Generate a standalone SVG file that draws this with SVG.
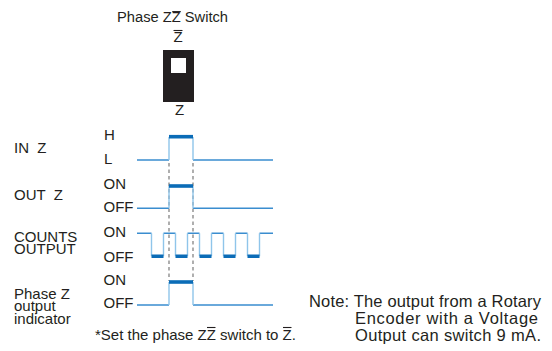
<svg xmlns="http://www.w3.org/2000/svg" width="552" height="351" viewBox="0 0 552 351">
<style>
text{font-family:"Liberation Sans",Arial,Helvetica,sans-serif;font-size:15px;fill:#231f20}
.bar{stroke:#231f20;stroke-width:1.1;fill:none}
.h{stroke:#3a8dcf;stroke-width:1.6;fill:none}
.v{stroke:#8fc5ea;stroke-width:1.4;fill:none}
.t{stroke:#0b6cb7;stroke-width:3.6;fill:none}
.d{stroke:#7a7a7a;stroke-width:1.2;stroke-dasharray:3.5 3;fill:none}
</style>
<rect width="552" height="351" fill="#ffffff"/>

<g id="switch">
<text x="117" y="22" style="font-size:14.7px">Phase ZZ Switch</text>
<line class="bar" x1="172.2" y1="11.6" x2="180.8" y2="11.6"/>
<text x="178" y="42" text-anchor="middle">Z</text>
<line class="bar" x1="173.5" y1="30.5" x2="182.5" y2="30.5"/>
<rect x="163" y="50" width="31" height="52" fill="#231f20"/>
<rect x="171" y="58" width="15" height="15" fill="#ffffff"/>
<text x="179.5" y="115" text-anchor="middle">Z</text>
</g>

<g id="labels">
<text x="14" y="153" xml:space="preserve">IN  Z</text>
<text x="104" y="140">H</text>
<text x="104" y="164">L</text>
<text x="14" y="200" xml:space="preserve">OUT  Z</text>
<text x="103.5" y="189">ON</text>
<text x="103.5" y="212">OFF</text>
<text x="14" y="242">COUNTS</text>
<text x="14" y="254">OUTPUT</text>
<text x="103.5" y="237">ON</text>
<text x="103.5" y="261.5">OFF</text>
<text x="14" y="298.5">Phase Z</text>
<text x="14" y="311">output</text>
<text x="14" y="323.5">indicator</text>
<text x="103.5" y="285">ON</text>
<text x="103.5" y="308">OFF</text>
</g>

<g id="connectors">
<!-- guide lines -->
<line class="d" x1="169" y1="163" x2="169" y2="281"/>
<line class="d" x1="193" y1="163" x2="193" y2="281"/>

<!-- IN Z -->
<path class="h" d="M137 160 H169 M193 160 H273"/>
<path class="v" d="M169 160 V137 M193 137 V160"/>
<path class="t" d="M169 136.7 H193"/>

<!-- OUT Z -->
<path class="h" d="M137 208.3 H169 M193 208.3 H273"/>
<path class="v" d="M169 208.3 V186 M193 186 V208.3"/>
<path class="t" d="M169 186 H193"/>

<!-- COUNTS OUTPUT -->
<path class="h" d="M137 233.3 H151.5 M163.5 233.3 H175.5 M187.5 233.3 H199.5 M211.5 233.3 H223.5 M235.5 233.3 H247.5 M259.5 233.3 H273"/>
<path class="v" d="M151.5 233.3 V256.3 M163.5 256.3 V233.3 M175.5 233.3 V256.3 M187.5 256.3 V233.3 M199.5 233.3 V256.3 M211.5 256.3 V233.3 M223.5 233.3 V256.3 M235.5 256.3 V233.3 M247.5 233.3 V256.3 M259.5 256.3 V233.3"/>
<path class="t" d="M151.5 256.3 H163.5 M175.5 256.3 H187.5 M199.5 256.3 H211.5 M223.5 256.3 H235.5 M247.5 256.3 H259.5"/>

<!-- Phase Z output indicator -->
<path class="h" d="M137 305 H169 M193 305 H273"/>
<path class="v" d="M169 305 V282 M193 282 V305"/>
<path class="t" d="M169 282 H193"/>
</g>

<g id="footnote">
<text x="95" y="340">*Set the phase ZZ switch to Z.</text>
<line class="bar" x1="207" y1="327.5" x2="215.5" y2="327.5"/>
<line class="bar" x1="283" y1="327.5" x2="291.5" y2="327.5"/>
</g>

<g id="note">
<text x="309" y="306.7" style="font-size:16.5px" textLength="232">Note: The output from a Rotary</text>
<text x="355" y="324" style="font-size:16.5px" textLength="183">Encoder with a Voltage</text>
<text x="355" y="341" style="font-size:16.5px" textLength="186">Output can switch 9 mA.</text>
</g>
</svg>
